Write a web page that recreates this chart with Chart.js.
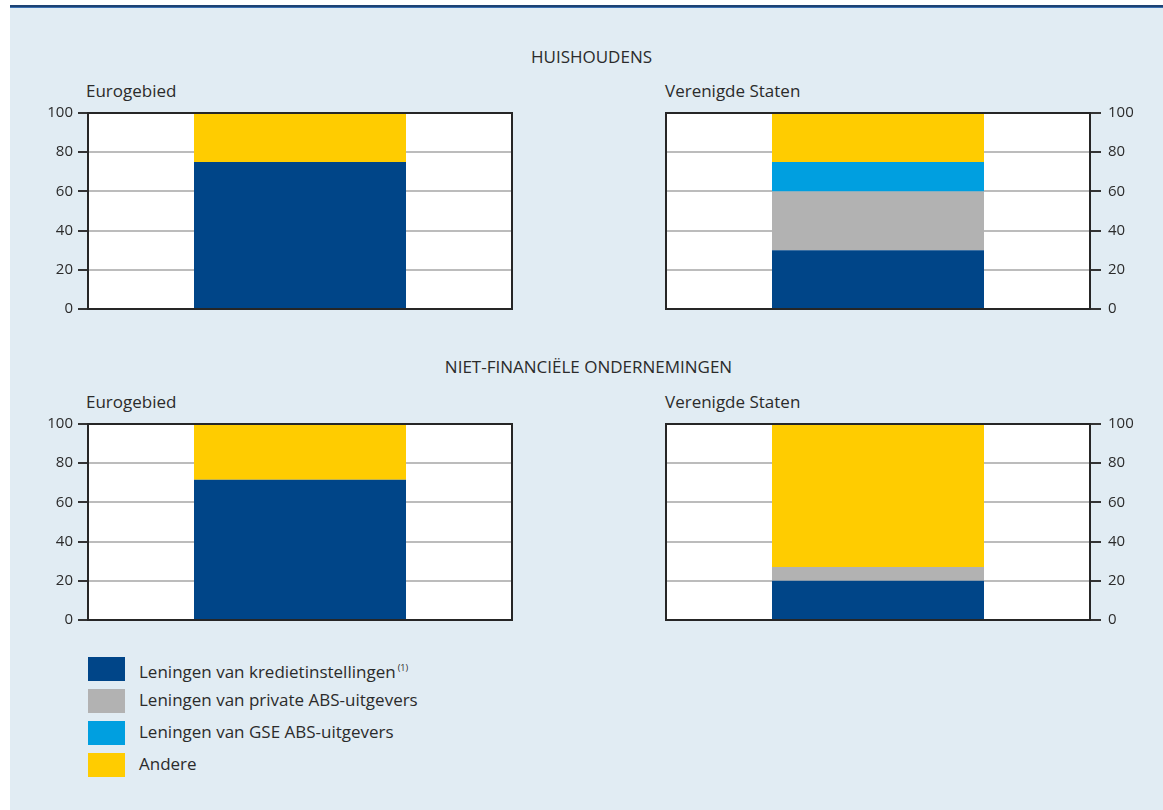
<!DOCTYPE html>
<html>
<head>
<meta charset="utf-8">
<script src="https://cdn.jsdelivr.net/npm/chart.js@4"></script>
<style>
    body { margin: 0; width: 1163px; height: 810px; position: relative; background: #fff; overflow: hidden;
           font-family: "Open Sans", "Noto Sans", sans-serif; color: #2b2b2b; }
    #panel { position: absolute; left: 10px; top: 8px; width: 1153px; height: 802px; background: #e1ecf3; }
    #rule { position: absolute; left: 10px; top: 5px; width: 1153px; height: 2px; background: #1d4273;
            border-bottom: 1px solid #3a70b0; }
    .title { position: absolute; width: 1163px; text-align: center; font-size: 17px; line-height: 20px; }
    .sub { position: absolute; font-size: 17px; line-height: 20px; }
    canvas { position: absolute; }
    .legend-row { position: absolute; left: 88px; height: 24px; }
    .legend-row .box { position: absolute; left: 0; top: 0; width: 37px; height: 24px; }
    .legend-row .txt { position: absolute; left: 51px; top: 1px; white-space: nowrap; font-size: 17px; line-height: 20px; }
    .legend-row sup { font-size: 9px; vertical-align: 7px; margin-left: 2px; }
</style>
</head>
<body>
<div id="panel"></div>
<div id="rule"></div>

<div class="title" style="left:10px; top:47px">HUISHOUDENS</div>
<div class="title" style="left:7px; top:357px">NIET-FINANCIËLE ONDERNEMINGEN</div>

<div class="sub" style="left:86px; top:81px">Eurogebied</div>
<div class="sub" style="left:665px; top:81px">Verenigde Staten</div>
<div class="sub" style="left:86px; top:392px">Eurogebied</div>
<div class="sub" style="left:665px; top:392px">Verenigde Staten</div>

<canvas id="hhEuro" width="510" height="237" style="left:20px; top:93px"></canvas>
<canvas id="hhUS" width="500" height="237" style="left:650px; top:93px"></canvas>
<canvas id="nfcEuro" width="510" height="237" style="left:20px; top:404px"></canvas>
<canvas id="nfcUS" width="500" height="237" style="left:650px; top:404px"></canvas>

<div id="legend"></div>

<script>
// series, bottom to top of each stacked bar
const seriesLabels = [
    "Leningen van kredietinstellingen",
    "Leningen van private ABS-uitgevers",
    "Leningen van GSE ABS-uitgevers",
    "Andere"
];
const seriesColors = ["#004588", "#b2b2b2", "#009fe0", "#ffcc00"];

// shares in percent, same order as seriesLabels
const hhEuroValues = [75, 0, 0, 25];
const hhUSValues = [30, 30, 15, 25];
const nfcEuroValues = [71.5, 0, 0, 28.5];
const nfcUSValues = [20, 7, 0, 73];

const yMin = 0;
const yMax = 100;
const yStep = 20;

const textColor = "#2b2b2b";
const fontFamily = "'Open Sans', 'Noto Sans', sans-serif";

// white plot area and a dark frame round it
const plotFrame = {
    id: "plotFrame",
    beforeDraw(chart) {
        const a = chart.chartArea;
        const ctx = chart.ctx;
        ctx.save();
        ctx.fillStyle = "#ffffff";
        ctx.fillRect(a.left, a.top, a.right - a.left, a.bottom - a.top);
        ctx.restore();
    },
    afterDraw(chart) {
        const a = chart.chartArea;
        const ctx = chart.ctx;
        ctx.save();
        ctx.strokeStyle = "#262626";
        ctx.lineWidth = 2;
        ctx.strokeRect(a.left, a.top, a.right - a.left, a.bottom - a.top);
        ctx.restore();
    }
};

function makeChart(id, values, side) {
    const datasets = seriesLabels.map((label, i) => ({
        label: label,
        data: [values[i]],
        backgroundColor: seriesColors[i],
        borderWidth: 0,
        barPercentage: 1,
        categoryPercentage: 0.5
    }));

    const left = side == "left";

    return new Chart(document.getElementById(id), {
        type: "bar",
        data: { labels: [""], datasets: datasets },
        options: {
            responsive: false,
            animation: false,
            devicePixelRatio: 1,
            layout: {
                // top padding larger than the scale's own label padding
                padding: left
                    ? { top: 20, bottom: 21, left: 0, right: 18 }
                    : { top: 20, bottom: 21, left: 16, right: 0 }
            },
            plugins: {
                legend: { display: false },
                tooltip: { enabled: false }
            },
            scales: {
                x: {
                    display: false,
                    stacked: true
                },
                y: {
                    position: side,
                    stacked: true,
                    min: yMin,
                    max: yMax,
                    afterFit: (scale) => { scale.width = left ? 68 : 60; },
                    ticks: {
                        stepSize: yStep,
                        color: textColor,
                        padding: left ? 5 : 7,
                        font: { family: fontFamily, size: 15 }
                    },
                    grid: {
                        color: "#bcbcbc",
                        lineWidth: 2,
                        drawTicks: true,
                        tickLength: left ? 10 : 11,
                        tickColor: "#333333",
                        tickWidth: 2
                    },
                    border: { display: false }
                }
            }
        },
        plugins: [plotFrame]
    });
}

makeChart("hhEuro", hhEuroValues, "left");
makeChart("hhUS", hhUSValues, "right");
makeChart("nfcEuro", nfcEuroValues, "left");
makeChart("nfcUS", nfcUSValues, "right");

// shared legend below the charts
const legend = document.getElementById("legend");
seriesLabels.forEach((label, i) => {
    const row = document.createElement("div");
    row.className = "legend-row";
    row.style.top = (657 + i * 32) + "px";
    const box = document.createElement("div");
    box.className = "box";
    box.style.background = seriesColors[i];
    const txt = document.createElement("div");
    txt.className = "txt";
    txt.textContent = label;
    if (i == 0) {
        const sup = document.createElement("sup");
        sup.textContent = "(1)";
        txt.appendChild(sup);
    }
    row.appendChild(box);
    row.appendChild(txt);
    legend.appendChild(row);
});
</script>
</body>
</html>
